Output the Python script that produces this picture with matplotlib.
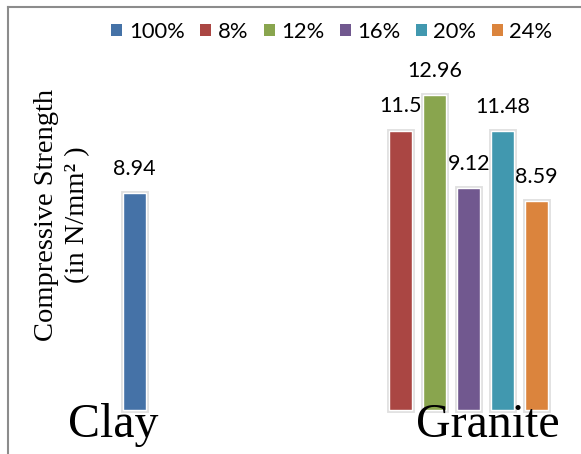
import numpy as np
import matplotlib
matplotlib.use("Agg")
import matplotlib.pyplot as plt
from matplotlib.patches import Patch
from matplotlib.lines import Line2D

categories = ["Clay", "Granite"]
series = ["100%", "8%", "12%", "16%", "20%", "24%"]
colors = ["#4572A7", "#AA4643", "#89A54E", "#71588F", "#4198AF", "#DB843D"]
# one list per series, None where the category has no bar
values = {
    "100%": [8.94, None],
    "8%": [None, 11.5],
    "12%": [None, 12.96],
    "16%": [None, 9.12],
    "20%": [None, 11.48],
    "24%": [None, 8.59],
}
labels = {
    "100%": ["8.94", None],
    "8%": [None, "11.5"],
    "12%": [None, "12.96"],
    "16%": [None, "9.12"],
    "20%": [None, "11.48"],
    "24%": [None, "8.59"],
}

W, H = 581, 454
fig = plt.figure(figsize=(W / 100, H / 100), dpi=100)
ax = fig.add_axes([0, 0, 1, 1])
ax.set_xlim(-0.939, 1.555)
ax.set_ylim(-1.81, 16.87)
ax.axis("off")

slot = 0.1455
bw = 0.0987
num_font = "Lato"

for i, s in enumerate(series):
    for j, v in enumerate(values[s]):
        if v is None:
            continue
        x = j + (i - 2.5) * slot
        # soft grey glow round the bar
        ax.bar(x, v, width=bw, color="none", edgecolor="#e0e0e0", linewidth=3.5, zorder=2)
        ax.bar(x, v, width=bw, color=colors[i], edgecolor="white", linewidth=1.0, zorder=3)
        ax.annotate(labels[s][j], (x, v), xytext=(0, 13), textcoords="offset points",
                    ha="center", va="baseline", fontsize=15.5, family=num_font, zorder=4)

# category names as large serif text
fig.text(113 / W, 1 - 437 / H, categories[0], ha="center", va="baseline",
         fontsize=34.5, family="Liberation Serif", zorder=5)
fig.text(488 / W, 1 - 437 / H, categories[1], ha="center", va="baseline",
         fontsize=34.5, family="Liberation Serif", zorder=5)

# y label
fig.text(62 / W, 1 - 215 / H, "Compressive Strength\n(in N/mm\u00b2 )", rotation=90,
         ha="center", va="center", fontsize=20.5, family="Liberation Serif",
         linespacing=1.35, multialignment="center")

# chart frame (top and left edges only visible)
fig.add_artist(Line2D([8 / W, 8 / W], [0, 1 - 7 / H], color="#8c8c8c", linewidth=1.5))
fig.add_artist(Line2D([8 / W, 1], [1 - 7 / H, 1 - 7 / H], color="#8c8c8c", linewidth=1.5))

handles = [Patch(facecolor=c, edgecolor="none") for c in colors]
fig.legend(handles, series, ncol=6, loc="center", bbox_to_anchor=(332 / W, 1 - 32 / H),
           frameon=False, prop={"family": num_font, "size": 15.8},
           handlelength=0.5, handleheight=0.5, handletextpad=0.3,
           columnspacing=0.7, borderpad=0)

fig.savefig("out.png", dpi=100)
